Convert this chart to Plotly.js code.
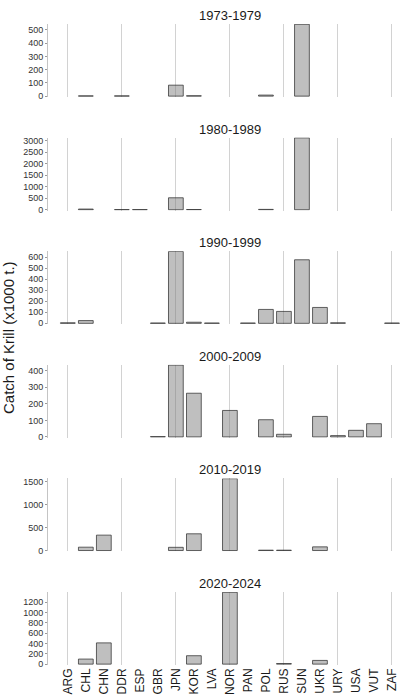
<!DOCTYPE html>
<html>
<head>
<meta charset="utf-8">
<script src="https://cdn.plot.ly/plotly-3.0.1.min.js"></script>
<style>html,body{margin:0;padding:0;background:#fff;}#chart{width:402px;height:699px;}</style>
</head>
<body>
<div id="chart"></div>
<script>
const categories = ['ARG','CHL','CHN','DDR','ESP','GBR','JPN','KOR','LVA','NOR','PAN','POL','RUS','SUN','UKR','URY','USA','VUT','ZAF'];
const periods = ['1973-1979','1980-1989','1990-1999','2000-2009','2010-2019','2020-2024'];

// Catch (x1000 t.) by country, in category order
const catch1973 = [null, 2, null, 2, null, null, 83, 3, null, null, null, 8, null, 543, null, null, null, null, null];
const catch1980 = [null, 30, null, 5, 5, null, 519, 10, null, null, null, 15, null, 3117, null, null, null, null, null];
const catch1990 = [5, 25, null, null, null, 3, 651, 10, 3, null, 3, 126, 108, 576, 144, 5, null, null, 3];
const catch2000 = [null, null, null, null, null, 2, 434, 264, null, 160, null, 104, 16, null, 124, 8, 40, 80, null];
const catch2010 = [null, 73, 335, null, null, null, 70, 364, null, 1563, null, 8, 8, null, 80, null, null, null, null];
const catch2020 = [null, 98, 411, null, null, null, null, 163, null, 1390, null, null, 12, null, 72, null, null, null, null];

const series = [catch1973, catch1980, catch1990, catch2000, catch2010, catch2020];
const yTickStep = [100, 500, 100, 100, 500, 200];

const H = 699;
const FONT = 'Liberation Sans, Arial, sans-serif';
const xRange = [-1.1, 18.5];
const gridCats = categories.filter((c, i) => i % 3 === 0);

const traces = [];
const layout = {
  width: 402, height: 699,
  margin: {l: 48, r: 1, t: 0, b: 0},
  paper_bgcolor: '#fff', plot_bgcolor: '#fff',
  showlegend: false,
  font: {family: FONT, color: '#333'},
  annotations: [],
  bargap: 0.18
};

series.forEach((vals, i) => {
  const k = i + 1;
  const top = 24 + i * 113.6;
  const bottom = top + 73;
  const dom = [1 - bottom / H, 1 - top / H];
  const max = Math.max(...vals.filter(v => v != null));
  traces.push({
    type: 'bar',
    x: categories,
    y: vals,
    xaxis: 'x' + k,
    yaxis: 'y' + k,
    width: 0.82,
    marker: {color: 'rgba(120,120,120,0.47)', line: {color: 'rgba(50,50,50,0.75)', width: 1}},
    hoverinfo: 'x+y'
  });
  layout['xaxis' + k] = {
    type: 'category',
    categoryarray: categories,
    categoryorder: 'array',
    range: xRange,
    anchor: 'y' + k,
    tickmode: 'array',
    tickvals: gridCats,
    showticklabels: false,
    ticks: '',
    showgrid: true,
    gridcolor: '#d2d2d2',
    gridwidth: 1,
    showline: false,
    zeroline: false,
    fixedrange: true
  };
  layout['yaxis' + k] = {
    domain: dom,
    anchor: 'x' + k,
    range: [-0.012 * max, 1.004 * max],
    dtick: yTickStep[i],
    tick0: 0,
    showgrid: false,
    zeroline: false,
    showline: true,
    linecolor: '#c4c4c4',
    linewidth: 1,
    ticks: 'outside',
    ticklen: 2,
    tickcolor: '#9a9a9a',
    tickfont: {size: 9, family: FONT, color: '#333'},
    fixedrange: true
  };
  layout.annotations.push({
    text: periods[i],
    xref: 'x' + k, yref: 'paper',
    x: (categories.length - 1) / 2, y: dom[1],
    xanchor: 'center', yanchor: 'bottom', yshift: -1,
    showarrow: false,
    font: {size: 13, family: FONT, color: '#1a1a1a'}
  });
});

// bottom axis carrying every country label
traces.push({
  type: 'scatter', mode: 'markers',
  x: categories, y: categories.map(() => null),
  xaxis: 'x7', yaxis: 'y6', hoverinfo: 'skip', showlegend: false
});
layout.xaxis7 = {
  type: 'category',
  categoryarray: categories,
  categoryorder: 'array',
  range: xRange,
  overlaying: 'x6',
  anchor: 'y6',
  side: 'bottom',
  tickmode: 'array',
  tickvals: categories,
  ticktext: categories,
  tickangle: -90,
  ticks: '',
  showgrid: false,
  zeroline: false,
  showline: false,
  tickfont: {size: 12, family: FONT, color: '#1a1a1a'},
  fixedrange: true
};

layout.annotations.push({
  text: 'Catch of Krill (x1000 t.)',
  xref: 'paper', yref: 'paper',
  x: (8 - 48) / 353, y: 1 - 338 / H,
  xanchor: 'center', yanchor: 'middle',
  textangle: -90,
  showarrow: false,
  font: {size: 15, family: FONT, color: '#1a1a1a'}
});

Plotly.newPlot('chart', traces, layout, {displayModeBar: false, staticPlot: true});
</script>
</body>
</html>
